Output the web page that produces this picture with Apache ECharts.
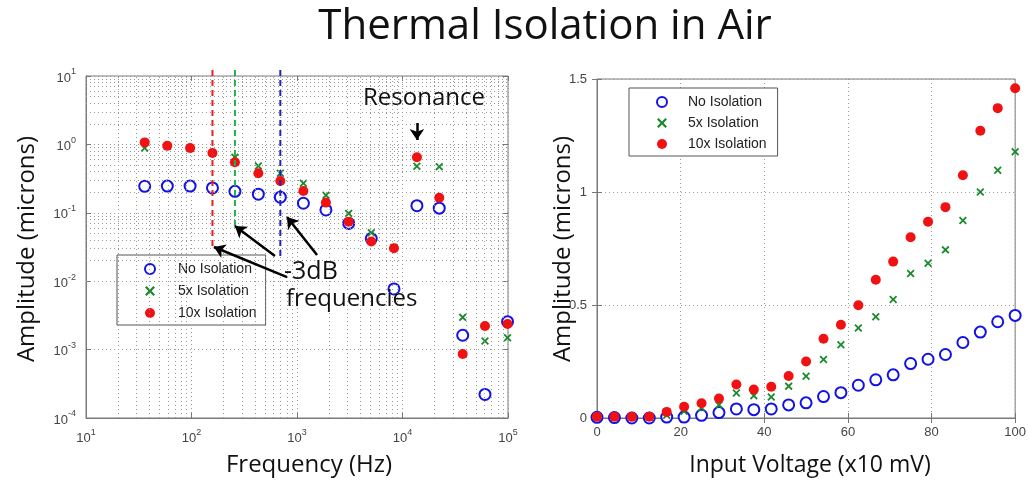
<!DOCTYPE html>
<html>
<head>
<meta charset="utf-8">
<script src="https://cdn.jsdelivr.net/npm/echarts@6/dist/echarts.min.js"></script>
<style>
  html, body { margin: 0; padding: 0; background: #fff; }
  #chart { width: 1029px; height: 484px; }
</style>
</head>
<body>
<div id="chart"></div>
<script>
// ---- Frequency sweep (left panel) ----
const freqHz   = [36, 59, 97, 158, 258, 430, 695, 1150, 1880, 3090, 5060, 8300, 13700, 22300, 37200, 60500, 99000];
const ampNoneF = [0.244, 0.246, 0.246, 0.231, 0.206, 0.187, 0.169, 0.138, 0.110, 0.070, 0.042, 0.0077, 0.127, 0.117, 0.00162, 0.000221, 0.00256];
const amp5xF   = [0.886, 0.93, 0.87, 0.75, 0.647, 0.483, 0.378, 0.270, 0.180, 0.098, 0.051, 0.031, 0.478, 0.473, 0.00296, 0.00134, 0.00149];
const amp10xF  = [1.07, 0.957, 0.886, 0.748, 0.547, 0.378, 0.292, 0.208, 0.141, 0.074, 0.038, 0.0303, 0.647, 0.166, 0.000863, 0.00221, 0.00237];

// -3dB cut-off frequencies (No, 5x, 10x isolation) and where each marker line ends
const cutoffHz  = [695, 258, 158];
const cutoffLow = [0.022, 0.064, 0.0316];

// ---- Voltage sweep (right panel) ----
const voltage  = [0, 4.17, 8.33, 12.5, 16.67, 20.83, 25, 29.17, 33.33, 37.5, 41.67, 45.83, 50, 54.17, 58.33, 62.5, 66.67, 70.83, 75, 79.17, 83.33, 87.5, 91.67, 95.83, 100];
const ampNoneV = [0.003, 0.002, 0.0, 0.0, 0.004, 0.004, 0.012, 0.024, 0.040, 0.037, 0.040, 0.058, 0.067, 0.095, 0.112, 0.145, 0.169, 0.191, 0.241, 0.260, 0.281, 0.334, 0.380, 0.426, 0.454];
const amp5xV   = [0.004, 0.004, 0.004, 0.004, 0.012, 0.030, 0.045, 0.058, 0.111, 0.099, 0.093, 0.141, 0.185, 0.259, 0.324, 0.398, 0.448, 0.524, 0.639, 0.685, 0.744, 0.874, 1.0, 1.096, 1.178];
const amp10xV  = [0.006, 0.006, 0.005, 0.006, 0.027, 0.050, 0.065, 0.086, 0.148, 0.126, 0.138, 0.186, 0.250, 0.351, 0.413, 0.499, 0.612, 0.692, 0.800, 0.868, 0.933, 1.074, 1.271, 1.371, 1.459];

const seriesNames = ['No Isolation', '5x Isolation', '10x Isolation'];

const BLUE = '#1212e6', GREEN = '#1c8a2c', RED = '#f01212';
const CROSS = 'path://M0,1.6L1.6,0L5,3.4L8.4,0L10,1.6L6.6,5L10,8.4L8.4,10L5,6.6L1.6,10L0,8.4L3.4,5Z';
const SLIDE_FONT = 'Open Sans';
const AXIS_FONT = 'Liberation Sans';
const GRID_GREY = '#9a9a9a';

const zip = (xs, ys) => xs.map((x, i) => [x, ys[i]]);

// minor log gridlines: 2..9 times each decade
function minorLog(lo, hi) {
  const out = [];
  for (let e = lo; e < hi; e++) for (let k = 2; k <= 9; k++) out.push(k * Math.pow(10, e));
  return out;
}
const minorX = minorLog(1, 5);
const minorY = minorLog(-4, 1);

const logLabel = {
  margin: 10,
  formatter: v => '{b|10}{s|' + Math.round(Math.log10(v)) + '}',
  rich: {
    b: { fontSize: 13, fontFamily: AXIS_FONT, color: '#444', verticalAlign: 'bottom' },
    s: { fontSize: 9, fontFamily: AXIS_FONT, color: '#444', padding: [0, 0, 8, 0], verticalAlign: 'bottom' }
  }
};
const tickIn = { show: true, inside: true, length: 5, lineStyle: { color: '#777' } };
const dotted = { show: true, lineStyle: { color: GRID_GREY, type: [1, 3], width: 1 } };
const axisLineStyle = { show: true, lineStyle: { color: '#7a7a7a' } };
const dummyAxis = { axisLine: { show: false }, axisLabel: { show: false }, splitLine: { show: false }, axisTick: tickIn };

function markerSeries(name, data, xi, yi) {
  const idx = seriesNames.indexOf(name);
  const base = { type: 'scatter', name, data, xAxisIndex: xi, yAxisIndex: yi, z: 3 + idx };
  if (idx === 0) return Object.assign(base, { symbol: 'emptyCircle', symbolSize: 11, itemStyle: { color: BLUE, borderWidth: 2.2, opacity: 1 } });
  if (idx === 1) return Object.assign(base, { symbol: CROSS, symbolSize: 8, itemStyle: { color: GREEN, opacity: 1 } });
  return Object.assign(base, { symbol: 'circle', symbolSize: 10, itemStyle: { color: RED, opacity: 1 } });
}

const legendData = [
  { name: seriesNames[0], icon: 'emptyCircle', itemStyle: { color: BLUE, borderColor: BLUE, borderWidth: 2.2, opacity: 1 } },
  { name: seriesNames[1], icon: CROSS, itemStyle: { color: GREEN, opacity: 1 } },
  { name: seriesNames[2], icon: 'circle', itemStyle: { color: RED, opacity: 1 } }
];
function legendAt(left, top, padding, itemWidth, itemGap) {
  return {
    data: legendData, orient: 'vertical', left, top, padding, itemWidth, itemHeight: 10, itemGap,
    backgroundColor: '#fff', borderColor: '#555', borderWidth: 1, borderRadius: 0,
    selectedMode: false,
    textStyle: { fontSize: 14, fontFamily: AXIS_FONT, color: '#222', lineHeight: 16 }
  };
}

const cutoffColors = ['#2424b4', '#22b04a', '#e82020'];
const cutoffSeries = cutoffHz.map((f, i) => ({
  type: 'line', xAxisIndex: 0, yAxisIndex: 0, clip: false, silent: true, z: 6,
  symbol: 'none', data: [[f, 12.2], [f, cutoffLow[i]]],
  lineStyle: { color: cutoffColors[i], width: 2, type: [6, 4] }
}));

const slideText = (text, x, y, size, extra) => Object.assign({
  type: 'text', x, y, z: 10,
  style: { text, fontFamily: SLIDE_FONT, fontSize: size, fill: '#111', align: 'center', verticalAlign: 'middle' }
}, extra || {});

const option = {
  animation: false,
  backgroundColor: '#fff',
  grid: [
    { left: 86, top: 76, width: 422, height: 342, show: true, borderColor: '#7a7a7a', borderWidth: 1, backgroundColor: 'transparent' },
    { left: 597, top: 79, width: 419, height: 339, show: true, borderColor: '#7a7a7a', borderWidth: 1, backgroundColor: 'transparent' }
  ],
  legend: [
    legendAt(117, 255, [6, 9, 4, 27], 46, 6),
    legendAt(629, 88, [6, 11, 4, 27], 42, 5)
  ],
  xAxis: [
    { type: 'log', gridIndex: 0, min: 10, max: 1e5, logBase: 10, splitNumber: 4,
      axisLine: axisLineStyle, axisTick: tickIn, axisLabel: logLabel, splitLine: dotted },
    Object.assign({ type: 'log', gridIndex: 0, position: 'top', min: 10, max: 1e5, splitNumber: 4 }, dummyAxis),
    { type: 'value', gridIndex: 1, min: 0, max: 100, interval: 20,
      axisLine: axisLineStyle, axisTick: tickIn, splitLine: dotted,
      axisLabel: { fontSize: 13, fontFamily: AXIS_FONT, color: '#444', margin: 8 } },
    Object.assign({ type: 'value', gridIndex: 1, position: 'top', min: 0, max: 100, interval: 20 }, dummyAxis)
  ],
  yAxis: [
    { type: 'log', gridIndex: 0, min: 1e-4, max: 10, logBase: 10, splitNumber: 5,
      axisLine: axisLineStyle, axisTick: tickIn, axisLabel: logLabel, splitLine: dotted },
    Object.assign({ type: 'log', gridIndex: 0, position: 'right', min: 1e-4, max: 10, splitNumber: 5 }, dummyAxis),
    { type: 'value', gridIndex: 1, min: 0, max: 1.5, interval: 0.5,
      axisLine: axisLineStyle, axisTick: tickIn, splitLine: dotted,
      axisLabel: { fontSize: 13, fontFamily: AXIS_FONT, color: '#444', margin: 10 } },
    Object.assign({ type: 'value', gridIndex: 1, position: 'right', min: 0, max: 1.5, interval: 0.5 }, dummyAxis)
  ],
  series: [
    // minor decade gridlines of the log-log panel
    { type: 'line', xAxisIndex: 0, yAxisIndex: 0, data: [], z: 1, silent: true,
      markLine: {
        silent: true, symbol: 'none', label: { show: false }, animation: false,
        lineStyle: { color: GRID_GREY, type: [1, 3], width: 1 },
        data: minorX.map(v => ({ xAxis: v })).concat(minorY.map(v => ({ yAxis: v })))
      } },
    ...cutoffSeries,
    markerSeries(seriesNames[0], zip(freqHz, ampNoneF), 0, 0),
    markerSeries(seriesNames[1], zip(freqHz, amp5xF), 0, 0),
    markerSeries(seriesNames[2], zip(freqHz, amp10xF), 0, 0),
    markerSeries(seriesNames[0], zip(voltage, ampNoneV), 2, 2),
    markerSeries(seriesNames[1], zip(voltage, amp5xV), 2, 2),
    markerSeries(seriesNames[2], zip(voltage, amp10xV), 2, 2),
    // annotation arrows: -3dB labels and the resonance peak
    { type: 'lines', coordinateSystem: 'cartesian2d', xAxisIndex: 0, yAxisIndex: 0, z: 8, silent: true,
      symbol: ['none', 'arrow'], symbolSize: 11,
      lineStyle: { color: '#000', width: 2.5, opacity: 1 },
      data: [
        { coords: [[804, 0.0115], [163, 0.0316]] },
        { coords: [[618, 0.0233], [258, 0.0641]] },
        { coords: [[1549, 0.0242], [804, 0.0869]] },
        { coords: [[13700, 2.06], [13700, 1.16]] }
      ] }
  ],
  graphic: [
    slideText('Thermal Isolation in Air', 545, 27, 42, { z: 10 }),
    slideText('Amplitude (microns)', 27, 249, 24, { rotation: Math.PI / 2 }),
    slideText('Amplitude (microns)', 563, 249, 24, { rotation: Math.PI / 2 }),
    slideText('Frequency (Hz)', 309, 465, 24),
    slideText('Input Voltage (x10 mV)', 810, 465, 23),
    slideText('Resonance', 424, 98, 24),
    { type: 'text', x: 284, y: 272, z: 10, style: { text: '-3dB', fontFamily: SLIDE_FONT, fontSize: 25, fill: '#111', align: 'left', verticalAlign: 'middle' } },
    { type: 'text', x: 286, y: 299, z: 10, style: { text: 'frequencies', fontFamily: SLIDE_FONT, fontSize: 24, fill: '#111', align: 'left', verticalAlign: 'middle' } }
  ]
};

const chart = echarts.init(document.getElementById('chart'), null, { renderer: 'canvas' });
chart.setOption(option);
</script>
</body>
</html>
